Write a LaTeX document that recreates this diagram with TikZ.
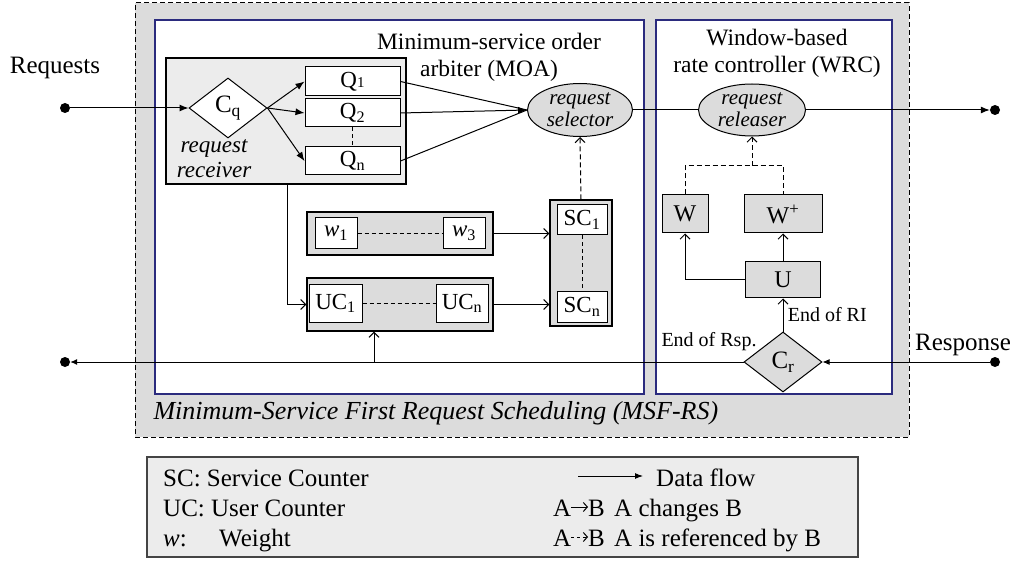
\documentclass[tikz,border=0pt]{standalone}
\usepackage{fontspec}
\setmainfont{Liberation Serif}
\usetikzlibrary{shapes.geometric,arrows.meta,calc}
\definecolor{bggray}{HTML}{DCDCDC}
\definecolor{lightg}{HTML}{ECECEC}
\definecolor{navyb}{HTML}{2B2B7E}
\definecolor{legb}{HTML}{444444}
\begin{document}
\begin{tikzpicture}[x=1pt,y=-1pt,
  font=\fontsize{23}{25}\selectfont,
  flow/.style={-{Latex[length=9pt,width=7pt]}, line width=1pt},
  chg/.style={-{Straight Barb[length=5pt,width=10pt]}, line width=1pt},
  refr/.style={chg, dashed, dash pattern=on 5pt off 3pt},
  dashl/.style={line width=0.8pt, dash pattern=on 4pt off 3pt},
  region/.style={draw=navyb, fill=white, line width=1.6pt, inner sep=0},
  grpbox/.style={draw, line width=1.2pt, inner sep=0},
  wbox/.style={draw, fill=white, line width=1pt, inner sep=0},
  gbox/.style={draw, fill=bggray, line width=1pt, inner sep=0},
  ell/.style={ellipse, draw, fill=bggray, line width=1pt, inner sep=0, align=center, font=\fontsize{21}{22}\selectfont\itshape},
  dia/.style={diamond, draw, line width=1pt, inner sep=0},
  dot/.style={circle, fill=black, inner sep=0, minimum size=10pt},
  small/.style={font=\fontsize{20}{22}\selectfont},
  big/.style={font=\fontsize{23.5}{27}\selectfont},
  legt/.style={font=\fontsize{25}{27}\selectfont},
  legb/.style={legt, anchor=base west, inner sep=0}
]
\useasboundingbox (0,0) rectangle (1017,561);
% outer dashed region
\node[draw, dashed, dash pattern=on 5pt off 3pt, fill=bggray, line width=1pt, minimum width=774pt, minimum height=434pt] (msf) at (522,220) {};
\node[region, minimum width=489pt, minimum height=374pt] (moa) at (399.5,207) {};
\node[region, minimum width=236pt, minimum height=374pt] (wrc) at (774,207) {};
% titles
\node[big, align=center] (moat) at (489,57) {Minimum-service order\\arbiter (MOA)};
\node[big, align=center] (wrct) at (777,53) {Window-based\\rate controller (WRC)};
\node[font=\fontsize{26}{28}\selectfont\itshape, anchor=west] (msft) at (150,413) {Minimum-Service First Request Scheduling (MSF-RS)};
% request receiver
\node[grpbox, fill=lightg, minimum width=240pt, minimum height=126pt] (recv) at (286,121) {};
\node[dia, fill=white, minimum width=78pt, minimum height=60pt, font=\fontsize{25}{27}\selectfont] (cq) at (228,108) {C\textsubscript{q}};
\node[font=\fontsize{23}{25}\selectfont\itshape, align=center] (recvt) at (214,159) {request\\receiver};
\node[wbox, minimum width=95pt, minimum height=29pt] (q1) at (352.5,81.5) {Q{\fontsize{15}{15}\selectfont 1}};
\node[wbox, minimum width=95pt, minimum height=28pt] (q2) at (352.5,113) {Q\textsubscript{2}};
\node[wbox, minimum width=95pt, minimum height=28pt] (qn) at (352.5,161) {Q\textsubscript{n}};
\draw[dashl] (q2.south) -- (qn.north);
% selector / releaser
\node[ell, minimum width=105pt, minimum height=53pt] (sel) at (580,110) {request\\selector};
\node[ell, minimum width=107pt, minimum height=52pt] (rel) at (752,110) {request\\releaser};
% external dots and labels
\node[dot] (indot) at (65,108) {};
\node[dot] (outdot) at (995,110) {};
\node[dot] (rspdot) at (995,362) {};
\node[dot] (leftdot) at (65,362) {};
\node[legt] (reqt) at (55,68) {Requests};
\node[legt] (rspt) at (963,345) {Response};
% weights, user counters, service counters
\node[grpbox, fill=bggray, minimum width=186pt, minimum height=43pt] (wgrp) at (400,233.5) {};
\node[wbox, minimum width=42pt, minimum height=31pt] (w1) at (336,233) {\textit{w}\textsubscript{1}};
\node[wbox, minimum width=42pt, minimum height=31pt] (w3) at (464,233) {\textit{w}\textsubscript{3}};
\draw[dashl] (w1.east) -- (w3.west);
\node[grpbox, fill=bggray, minimum width=186pt, minimum height=53pt] (ucgrp) at (400,304.5) {};
\node[wbox, minimum width=53pt, minimum height=37pt] (uc1) at (335.5,303.5) {UC\textsubscript{1}};
\node[wbox, minimum width=52pt, minimum height=37pt] (ucn) at (462,303.5) {UC\textsubscript{n}};
\draw[dashl] (uc1.east) -- (ucn.west);
\node[grpbox, fill=bggray, minimum width=62pt, minimum height=126pt] (scgrp) at (581,263) {};
\node[wbox, minimum width=50pt, minimum height=30pt] (sc1) at (582,220) {SC\textsubscript{1}};
\node[wbox, minimum width=50pt, minimum height=30pt] (scn) at (582,307) {SC\textsubscript{n}};
\draw[dashl] (sc1.south) -- (scn.north);
% WRC internals
\node[gbox, minimum width=46pt, minimum height=38pt, font=\fontsize{24}{26}\selectfont] (wwin) at (685,214) {W};
\node[gbox, minimum width=78pt, minimum height=38pt, font=\fontsize{24}{26}\selectfont] (wplus) at (783,214) {W\textsuperscript{+}};
\node[gbox, minimum width=75pt, minimum height=36pt, font=\fontsize{24}{26}\selectfont] (ubox) at (783,280) {U};
\node[dia, fill=bggray, minimum width=78pt, minimum height=60pt, font=\fontsize{25}{27}\selectfont] (cr) at (783,362) {C\textsubscript{r}};
% connectors: request path
\draw[flow] (indot) -- (cq.west);
\draw[flow] (cq.east) -- (q1.west);
\draw[flow] (cq.east) -- (q2.west);
\draw[flow] (cq.east) -- (qn.west);
\draw[line width=1pt] (q1.east) -- (sel.west);
\draw[flow] (q2.east) -- (sel.west);
\draw[line width=1pt] (qn.east) -- (sel.west);
\draw[line width=1pt] (sel.east) -- (rel.west);
\draw[flow] (rel.east) -- (outdot);
% counters
\draw[chg] (recv.south -| 287,0) |- (ucgrp.west);
\draw[chg] (wgrp.east) -- (wgrp.east -| scgrp.west);
\draw[chg] (ucgrp.east) -- (ucgrp.east -| scgrp.west);
\draw[refr] (scgrp.north) -- (sel.south);
% response path
\draw[-{Latex[length=7pt,width=6pt]}, line width=1pt] (rspdot) -- (cr.east);
\draw[-{Latex[length=7pt,width=6pt]}, line width=1pt] (cr.west) -- (leftdot);
\coordinate (uctap) at (374,362);
\draw[chg] (uctap) -- (uctap |- ucgrp.south);
\node[small] (eorsp) at (709,342) {End of Rsp.};
\draw[chg] (cr.north) -- (ubox.south) node[small, pos=0.5, anchor=west, xshift=1pt] (eori) {End of RI};
\draw[chg] (ubox.north) -- (wplus.south);
\draw[chg] (ubox.west) -| (wwin.south);
\coordinate (refmid) at (752,166);
\draw[dashed, dash pattern=on 5pt off 3pt, line width=1pt] (wwin.north) |- (refmid) -| (wplus.north);
\draw[refr] (refmid) -- (rel.south);
% legend
\node[draw=legb, fill=lightg, line width=1.2pt, minimum width=711pt, minimum height=100pt] (leg) at (502.5,507) {};
\node[legb] (lsc) at (163,486) {SC: Service Counter};
\node[legb] (luc) at (163,516) {UC: User Counter};
\node[legb] (lw) at (163,546) {\textit{w}:};
\node[legb] (lwt) at (219,546) {Weight};
\coordinate (dfa) at (578,476);
\coordinate (dfb) at (643,476);
\draw[-{Latex[length=8pt,width=6pt]}, line width=1pt] (dfa) -- (dfb);
\node[legb] (ldf) at (656,486) {Data flow};
\node[legb] (la1) at (553,516) {A};
\node[legb] (lb1) at (588,516) {B};
\draw[-{Straight Barb[length=4pt,width=9pt]}, line width=1pt] (la1.east |- 0,507) -- (lb1.west |- 0,507);
\node[legb] (lch) at (614,516) {A changes B};
\node[legb] (la2) at (553,546) {A};
\node[legb] (lb2) at (588,546) {B};
\draw[-{Straight Barb[length=4pt,width=9pt]}, line width=1pt, dash pattern=on 3pt off 3pt] (la2.east |- 0,537) -- (lb2.west |- 0,537);
\node[legb] (lrf) at (614,546) {A is referenced by B};
\end{tikzpicture}
\end{document}
